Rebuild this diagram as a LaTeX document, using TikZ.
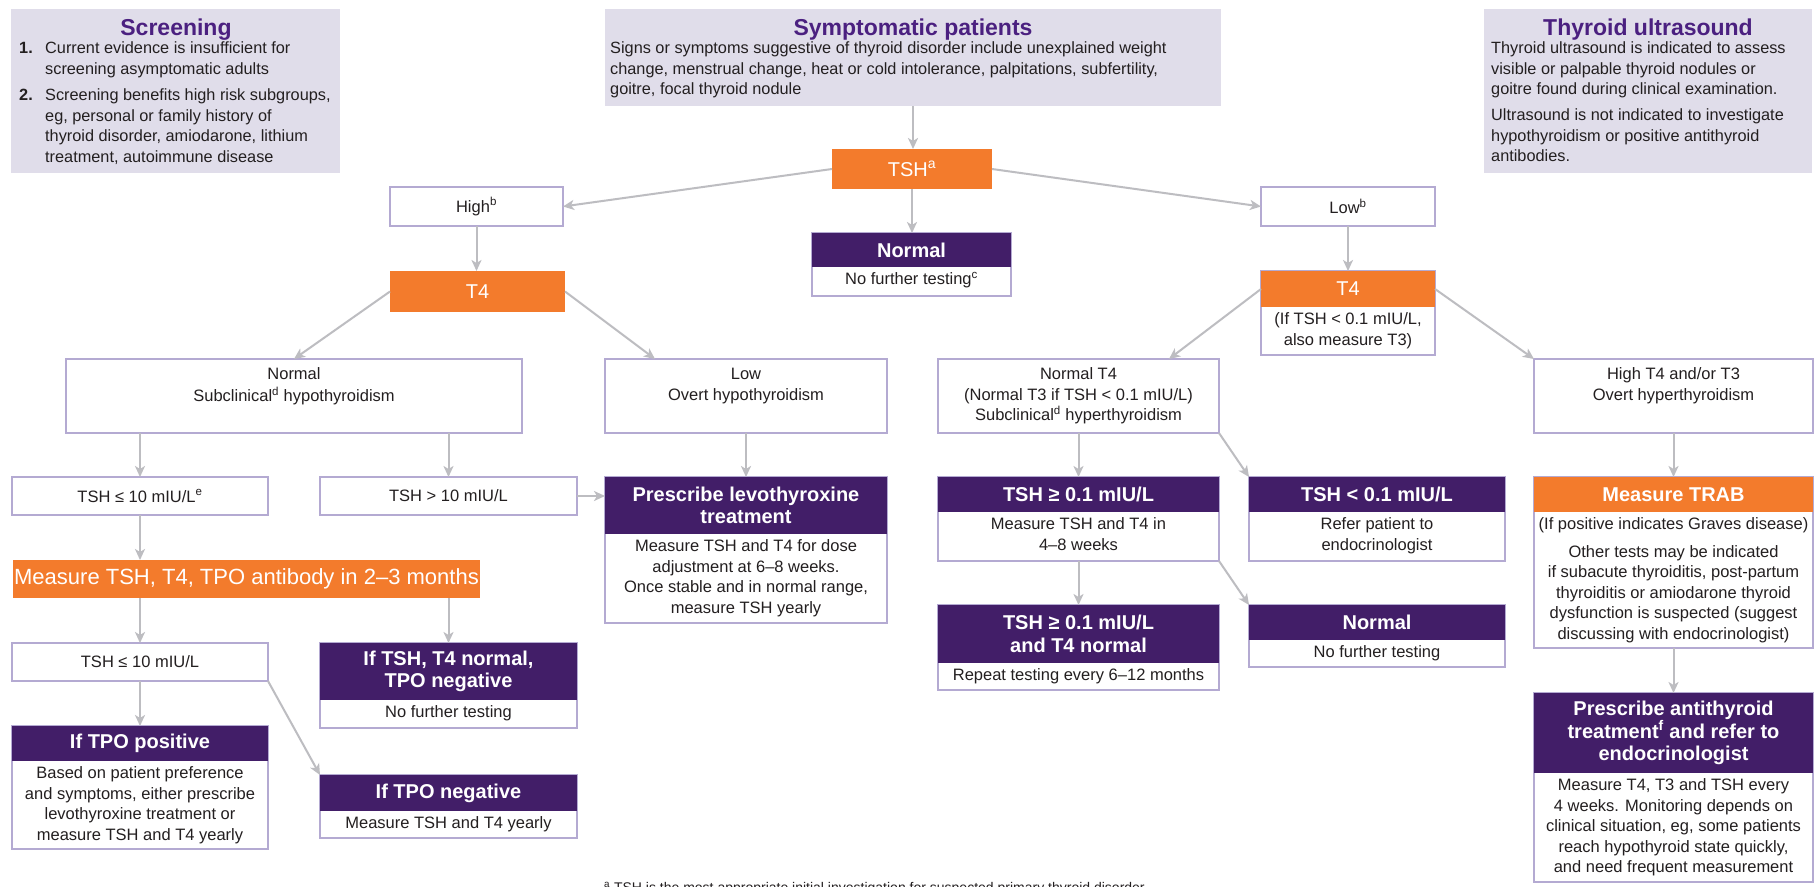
\documentclass[tikz,border=0pt]{standalone}
\usepackage{fontspec}
\setmainfont{Liberation Sans}
\usetikzlibrary{arrows.meta,calc}
\definecolor{orng}{HTML}{F37B2C}
\definecolor{purp}{HTML}{421E68}
\definecolor{titlep}{HTML}{4B2080}
\definecolor{lav}{HTML}{E0DDEA}
\definecolor{bord}{HTML}{B4AAD2}
\definecolor{arrg}{HTML}{BDBDC1}
\definecolor{ink}{HTML}{231F20}
\newcommand{\bodyf}{\fontsize{16.5}{20.5}\selectfont}
\newcommand{\infof}{\fontsize{16.3}{20.5}\selectfont}
\newcommand{\headf}{\fontsize{20}{22.5}\selectfont\bfseries}
\newcommand{\orf}{\fontsize{20}{22.5}\selectfont}
\newcommand{\titlef}{\fontsize{23}{26}\selectfont\bfseries}
\tikzset{
  plain/.style={draw=bord, line width=1.5pt, fill=white, inner sep=0pt, outer sep=0pt, align=center, font=\bodyf, text=ink},
  info/.style={fill=lav, inner sep=0pt, outer sep=0pt},
  orangebox/.style={fill=orng, inner sep=0pt, outer sep=0pt, text=white, align=center, font=\orf},
  orangehead/.style={fill=orng, inner sep=0pt, outer sep=0pt, text=white, align=center, font=\orf},
  orangeheadb/.style={fill=orng, inner sep=0pt, outer sep=0pt, text=white, align=center, font=\headf},
  headbox/.style={fill=purp, inner sep=0pt, outer sep=0pt, text=white, align=center, font=\headf},
  txt/.style={inner sep=0pt, align=center, font=\bodyf, text=ink},
  infotxt/.style={inner sep=0pt, align=left, font=\infof, text=ink},
  titletxt/.style={inner sep=0pt, font=\titlef, text=titlep},
  conn/.style={draw=arrg, line width=2pt, -{Stealth[length=11pt,width=10pt,inset=3pt]}},
}
\newcommand{\rectnode}[6]{\node[#1, minimum width={#5-#3}, minimum height={#6-#4}, anchor=north west] (#2) at (#3,#4) {};}
\newcommand{\plainnode}[7]{\node[#1, minimum width={#5-#3}, minimum height={#6-#4}, anchor=north west] (#2) at (#3,#4) {#7};}
\newcommand{\hdrbox}[9]{%
  \node[plain, minimum width={#4-#2}, minimum height={#6-#3}, anchor=north west] (#1) at (#2,#3) {};
  \node[#9, minimum width={#4-#2}, minimum height={#5-#3}, anchor=north west] (#1-h) at (#2,#3) {#7};
  \node[txt, anchor=north] (#1-t) at ({(#2+#4)/2},#5+3) {\strut #8};
}
\begin{document}
\begin{tikzpicture}[x=1pt,y=-1pt]
\useasboundingbox[fill=white] (0,0) rectangle (1814,886);

% ---------- information boxes
\rectnode{info}{scr}{11}{9}{340}{173}
\node[titletxt, anchor=base] (scr-title) at (176,35) {Screening};
\node[infotxt, anchor=base west, font=\infof\bfseries] (scr-n1) at (19,53.5) {1.};
\node[infotxt, anchor=north west] (scr-i1) at (45,39.15) {\strut Current evidence is insufficient for\\screening asymptomatic adults};
\node[infotxt, anchor=base west, font=\infof\bfseries] (scr-n2) at (19,100.5) {2.};
\node[infotxt, anchor=north west] (scr-i2) at (45,86.15) {\strut Screening benefits high risk subgroups,\\eg, personal or family history of\\thyroid disorder, amiodarone, lithium\\treatment, autoimmune disease};

\rectnode{info}{sym}{605}{9}{1221}{106}
\node[titletxt, anchor=base] (sym-title) at (913,35) {Symptomatic patients};
\node[infotxt, anchor=north west] (sym-t) at (610,39.15) {\strut Signs or symptoms suggestive of thyroid disorder include unexplained weight\\change, menstrual change, heat or cold intolerance, palpitations, subfertility,\\goitre, focal thyroid nodule};

\rectnode{info}{us}{1484}{9}{1812}{173}
\node[titletxt, anchor=base] (us-title) at (1648,35) {Thyroid ultrasound};
\node[infotxt, anchor=north west] (us-t) at (1491,39.15) {\strut Thyroid ultrasound is indicated to assess\\visible or palpable thyroid nodules or\\goitre found during clinical examination.\\[5.5pt]Ultrasound is not indicated to investigate\\hypothyroidism or positive antithyroid\\antibodies.};

% ---------- first levels
\plainnode{orangebox}{tsh}{832}{149}{992}{189}{TSH\textsuperscript{a}}
\plainnode{plain}{high}{390}{187}{563}{226}{High\textsuperscript{b}}
\plainnode{plain}{low}{1261}{187}{1435}{226}{Low\textsuperscript{b}}
\hdrbox{norm}{812}{233}{1011}{267}{296}{Normal}{No further testing\textsuperscript{c}}{headbox}
\plainnode{orangebox}{t4l}{390}{271}{565}{312}{T4}
\hdrbox{t4r}{1261}{271}{1435}{307}{355}{T4}{(If TSH < 0.1 mIU/L,\\also measure T3)}{orangehead}

% ---------- T4 outcome boxes
\rectnode{plain}{nsub}{66}{359}{522}{433}
\node[txt, anchor=north] (nsub-t) at ({(66+522)/2},365) {\strut Normal\\Subclinical\textsuperscript{d} hypothyroidism};
\rectnode{plain}{lovt}{605}{359}{887}{433}
\node[txt, anchor=north] (lovt-t) at ({(605+887)/2},365) {\strut Low\\Overt hypothyroidism};
\rectnode{plain}{nt4}{938}{359}{1219}{433}
\node[txt, anchor=north] (nt4-t) at ({(938+1219)/2},365) {\strut Normal T4\\(Normal T3 if TSH < 0.1 mIU/L)\\Subclinical\textsuperscript{d} hyperthyroidism};
\rectnode{plain}{ht4}{1534}{359}{1813}{433}
\node[txt, anchor=north] (ht4-t) at ({(1534+1813)/2},365) {\strut High T4 and/or T3\\Overt hyperthyroidism};

% ---------- hypothyroid branch
\plainnode{plain}{le10a}{12}{477}{268}{515}{TSH ≤ 10 mIU/L\textsuperscript{e}}
\plainnode{plain}{gt10}{320}{477}{577}{515}{TSH > 10 mIU/L}
\node[orangebox, font=\fontsize{22}{24}\selectfont, minimum width=467, minimum height=38, anchor=north west] (meas) at (13,560) {Measure TSH, T4, TPO antibody in 2–3 months};
\plainnode{plain}{le10b}{12}{643}{268}{681}{TSH ≤ 10 mIU/L}
\hdrbox{tsht4}{320}{643}{577}{700}{728}{If TSH, T4 normal,\\TPO negative}{No further testing}{headbox}
\hdrbox{tpop}{12}{726}{268}{761}{849}{If TPO positive}{Based on patient preference\\and symptoms, either prescribe\\levothyroxine treatment or\\measure TSH and T4 yearly}{headbox}
\hdrbox{tpon}{320}{775}{577}{811}{838}{If TPO negative}{Measure TSH and T4 yearly}{headbox}
\hdrbox{presc}{605}{477}{887}{534}{623}{Prescribe levothyroxine\\treatment}{Measure TSH and T4 for dose\\adjustment at 6–8 weeks.\\Once stable and in normal range,\\measure TSH yearly}{headbox}

% ---------- hyperthyroid branch
\hdrbox{ge01}{938}{477}{1219}{512}{561}{TSH ≥ 0.1 mIU/L}{Measure TSH and T4 in\\4–8 weeks}{headbox}
\hdrbox{lt01}{1249}{477}{1505}{512}{561}{TSH < 0.1 mIU/L}{Refer patient to\\endocrinologist}{headbox}
\hdrbox{ge01b}{938}{605}{1219}{663}{690}{TSH ≥ 0.1 mIU/L\\and T4 normal}{Repeat testing every 6–12 months}{headbox}
\hdrbox{normr}{1249}{605}{1505}{640}{667}{Normal}{No further testing}{headbox}
\hdrbox{trab}{1534}{477}{1813}{512}{648}{Measure TRAB}{(If positive indicates Graves disease)\\[7pt]Other tests may be indicated\\if subacute thyroiditis, post-partum\\thyroiditis or amiodarone thyroid\\dysfunction is suspected (suggest\\discussing with endocrinologist)}{orangeheadb}
\hdrbox{anti}{1534}{693}{1813}{773}{882}{Prescribe antithyroid\\treatment\textsuperscript{f} and refer to\\endocrinologist}{Measure T4, T3 and TSH every\\4 weeks. Monitoring depends on\\clinical situation, eg, some patients\\reach hypothyroid state quickly,\\and need frequent measurement}{headbox}

% ---------- footnote (cut by the lower edge)
\node[anchor=north west, inner sep=0pt, font=\fontsize{14}{16}\selectfont, text=ink] (fn) at (604,882) {\textsuperscript{a} TSH is the most appropriate initial investigation for suspected primary thyroid disorder};

% ---------- connectors
\draw[conn] (sym.south) -- (sym.south |- tsh.north);
\draw[conn] (tsh.west) -- (high.east);
\draw[conn] (tsh.east) -- (low.west);
\draw[conn] (tsh.south) -- (tsh.south |- norm.north);
\draw[conn] (high.south) -- (high.south |- t4l.north);
\draw[conn] (low.south) -- (t4r.north);
\draw[conn] (t4l.west) -- (nsub.north);
\draw[conn] (t4l.east) -- ([xshift=50pt]lovt.north west);
\draw[conn] (t4r-h.west) -- ([xshift=-50pt]nt4.north east);
\draw[conn] (t4r-h.east) -- (ht4.north west);
\draw[conn] (le10a.north |- nsub.south) -- (le10a.north);
\draw[conn] (gt10.north |- nsub.south) -- (gt10.north);
\draw[conn] (gt10.east) -- (presc.west |- gt10.east);
\draw[conn] (lovt.south) -- (presc.north);
\draw[conn] (le10a.south) -- (le10a.south |- meas.north);
\draw[conn] (le10b.north |- meas.south) -- (le10b.north);
\draw[conn] (tsht4.north |- meas.south) -- (tsht4.north);
\draw[conn] (le10b.south) -- (tpop.north);
\draw[conn] (le10b.south east) -- (tpon.north west);
\draw[conn] (nt4.south) -- (ge01.north);
\draw[conn] (nt4.south east) -- (lt01.north west);
\draw[conn] (ge01.south) -- (ge01b.north);
\draw[conn] (ge01.south east) -- (normr.north west);
\draw[conn] (ht4.south) -- (trab.north);
\draw[conn] (trab.south) -- (anti.north);
\end{tikzpicture}
\end{document}
